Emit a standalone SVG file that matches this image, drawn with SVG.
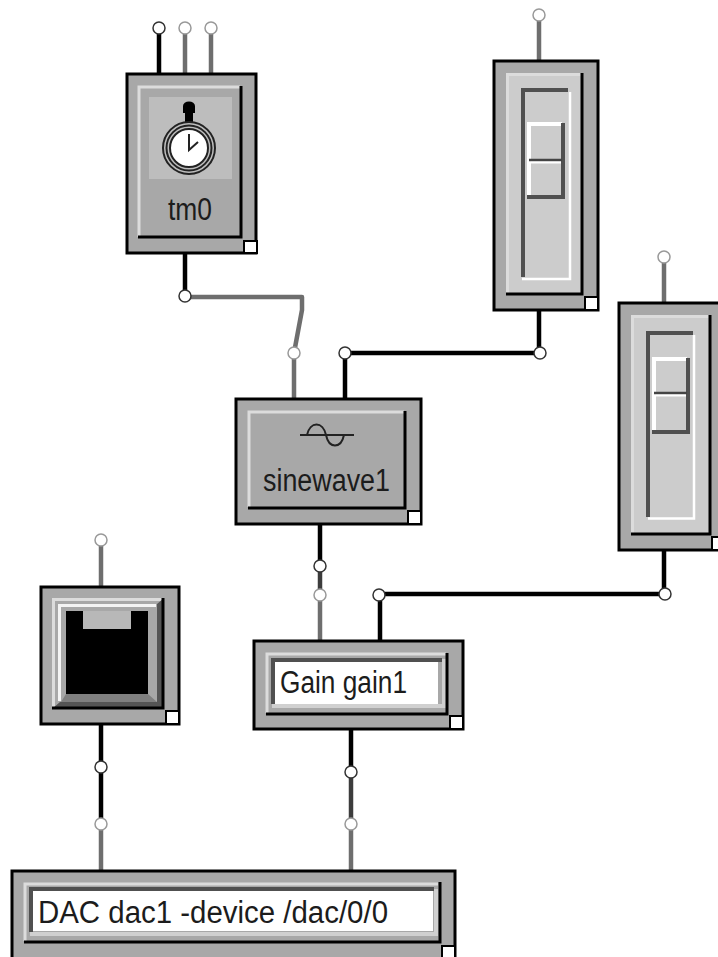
<svg xmlns="http://www.w3.org/2000/svg" width="718" height="957" viewBox="0 0 718 957">
<style>
.box{fill:#a8a8a8;stroke:#000;stroke-width:3}
.lt{stroke:#dcdcdc;stroke-width:3;fill:none}
.dk{stroke:#000;stroke-width:3;fill:none}
.mid{stroke:#505050;stroke-width:4;fill:none}
.wh{stroke:#fff;stroke-width:4;fill:none}
.wt{stroke:#fff;stroke-width:2.500;fill:none}
.hl{stroke:#d0d0d0;stroke-width:4;fill:none}
.corner{fill:#fff;stroke:#000;stroke-width:2}
.c{fill:none;stroke-width:4.500;stroke-linejoin:round}
.b{stroke:#000}
.g{stroke:#6e6e6e}
.d{stroke:#3c3c3c}
.p{fill:#fff;stroke-width:1.500}
.pb{stroke:#333}
.pg{stroke:#999}
text{font-family:"Liberation Sans",Arial,sans-serif;font-size:31px;fill:#1c1c1c}
</style>
<g id="connectors">
<path class="c b" d="M159 28V73"/>
<path class="c g" d="M185 28V73"/>
<path class="c g" d="M211 28V73"/>
<path class="c b" d="M185 253V296"/>
<path class="c g" d="M185 297H302V310L294 353V399"/>
<path class="c g" d="M539 15V60"/>
<path class="c b" d="M539 311V353H345V399"/>
<path class="c g" d="M664 257V302"/>
<path class="c b" d="M664 550V594H380V641"/>
<path class="c b" d="M320 524V566"/>
<path class="c d" d="M320 566V595"/>
<path class="c g" d="M320 595V641"/>
<path class="c g" d="M101 540V586"/>
<path class="c b" d="M101 724V824"/>
<path class="c g" d="M101 824V870"/>
<path class="c b" d="M351 729V772"/>
<path class="c d" d="M351 772V824"/>
<path class="c g" d="M351 824V870"/>
<circle class="p pb" cx="159" cy="28" r="6"/>
<circle class="p pg" cx="185" cy="28" r="6"/>
<circle class="p pg" cx="211" cy="28" r="6"/>
<circle class="p pb" cx="185" cy="296" r="6"/>
<circle class="p pg" cx="294" cy="353" r="6"/>
<circle class="p pg" cx="539" cy="15" r="6"/>
<circle class="p pb" cx="540" cy="353" r="6"/>
<circle class="p pb" cx="345" cy="353" r="6"/>
<circle class="p pg" cx="664" cy="257" r="6"/>
<circle class="p pb" cx="665" cy="594" r="6"/>
<circle class="p pb" cx="379" cy="595" r="6"/>
<circle class="p pb" cx="320" cy="566" r="6"/>
<circle class="p pg" cx="320" cy="595" r="6"/>
<circle class="p pg" cx="101" cy="540" r="6"/>
<circle class="p pb" cx="101" cy="767" r="6"/>
<circle class="p pg" cx="101" cy="824" r="6"/>
<circle class="p pb" cx="351" cy="772" r="6"/>
<circle class="p pg" cx="351" cy="824" r="6"/>
</g>
<g id="tm0">
<rect class="box" x="127" y="74" width="129" height="179"/>
<path class="lt" d="M139 237V87H240"/>
<path class="dk" d="M241 86V237H138"/>
<rect x="149" y="97" width="83" height="82" fill="#bdbdbd"/>
<path d="M185 123V113H183V106A6 4.500 0 0 1 195 106V113H193V123Z" fill="#000"/>
<circle cx="189" cy="148" r="26" fill="#bdbdbd" stroke="#222" stroke-width="2"/>
<circle cx="189" cy="148" r="22.500" fill="#bdbdbd" stroke="#222" stroke-width="2"/>
<circle cx="189" cy="148" r="19" fill="#fff" stroke="#222" stroke-width="2"/>
<path d="M189 134V150L198 142" fill="none" stroke="#222" stroke-width="2"/>
<text x="168" y="220" textLength="44" lengthAdjust="spacingAndGlyphs">tm0</text>
<rect class="corner" x="244" y="241" width="13" height="12"/>
</g>
<g id="slider1">
<rect class="box" x="494" y="61" width="104" height="249"/>
<rect x="507" y="74" width="75" height="220" fill="#cccccc"/>
<path class="lt" d="M507.500 294V74.500H581"/>
<path class="dk" d="M582 73V294H506"/>
<path class="mid" d="M523 277V90H568"/>
<path class="wt" d="M522 279H570V92"/>
<path class="wh" d="M529 197V124H562"/>
<path class="mid" d="M563 123V197H527"/>
<path d="M529 160H562" stroke="#444" stroke-width="2.500"/>
<path d="M531 162.500H561" stroke="#fff" stroke-width="2"/>
<rect class="corner" x="585" y="297" width="13" height="13"/>
</g>
<g id="slider2">
<rect class="box" x="619" y="303" width="104" height="247"/>
<rect x="632" y="316" width="77" height="217" fill="#cccccc"/>
<path class="lt" d="M632.500 533V316.500H709"/>
<path class="dk" d="M710 315V534H631"/>
<path class="mid" d="M648 517V333H693"/>
<path class="wt" d="M648 518.500H694V335"/>
<path class="wh" d="M654 431V359H687"/>
<path class="mid" d="M688 358V432H652"/>
<path d="M654 393H687" stroke="#444" stroke-width="2.500"/>
<path d="M656 395.500H686" stroke="#fff" stroke-width="2"/>
<rect class="corner" x="712" y="537" width="13" height="13"/>
</g>
<g id="sinewave1">
<rect class="box" x="236" y="399" width="185" height="125"/>
<path class="lt" d="M249 507V412H404"/>
<path class="dk" d="M405 411V508H248"/>
<path d="M300 435H354M307 435C310 421 323 421 326 435C329 449 341 449 344 435" fill="none" stroke="#222" stroke-width="2"/>
<text x="263" y="491" textLength="127" lengthAdjust="spacingAndGlyphs">sinewave1</text>
<rect class="corner" x="408" y="511" width="13" height="13"/>
</g>
<g id="unit1">
<rect class="box" x="41" y="587" width="138" height="137"/>
<path d="M52 598H164V709H52Z" fill="#dcdcdc"/>
<path d="M55 601H164V709H55Z" fill="#a8a8a8"/>
<path d="M52 709L60 702H157V604L164 598V709Z" fill="#555"/>
<path d="M58 702V604H157V702Z" fill="#a8a8a8"/>
<path d="M59.500 701V605.500H156" fill="none" stroke="#f4f4f4" stroke-width="3"/>
<path d="M61 702L66 694H148L157 702Z" fill="#808080"/>
<path class="dk" d="M163 598V708H52"/>
<rect x="66" y="611" width="82" height="83" fill="#000"/>
<rect x="83" y="611" width="48" height="18" fill="#b8b8b8"/>
<rect class="corner" x="166" y="711" width="13" height="13"/>
</g>
<g id="gain1">
<rect class="box" x="254" y="641" width="209" height="88"/>
<path class="lt" d="M267 713V654H446"/>
<path class="mid" d="M273 704V660H442"/>
<rect x="275" y="662" width="163" height="42" fill="#fff"/>
<path class="hl" d="M272 706H444V659"/>
<path class="dk" d="M447 653V714H266"/>
<text x="280" y="693" textLength="127" lengthAdjust="spacingAndGlyphs">Gain gain1</text>
<rect class="corner" x="450" y="716" width="13" height="13"/>
</g>
<g id="dac1">
<rect class="box" x="12" y="871" width="443" height="88"/>
<path class="lt" d="M25 941V884H438"/>
<path class="mid" d="M31 932V889H434"/>
<rect x="33" y="891" width="400" height="40" fill="#fff"/>
<path class="hl" d="M30 934H436V889"/>
<path class="dk" d="M440 882V942H24"/>
<text x="38" y="923" textLength="350" lengthAdjust="spacingAndGlyphs">DAC dac1 -device /dac/0/0</text>
<rect class="corner" x="442" y="946" width="13" height="13"/>
</g>
</svg>
